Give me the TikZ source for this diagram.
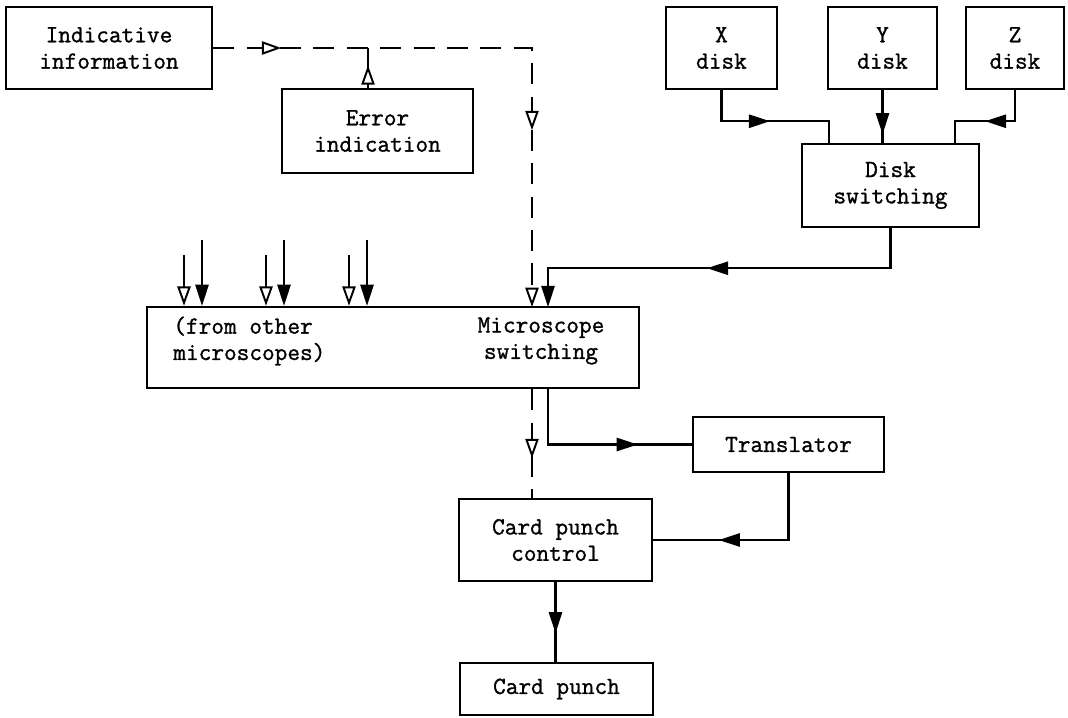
\documentclass[tikz,border=0pt]{standalone}
\usepackage{fontspec}
\newfontfamily\typefont[FakeBold=1.2]{Latin Modern Mono}
\usetikzlibrary{arrows.meta,decorations.markings}

\tikzset{
	blk/.style={draw,line width=1.4pt,align=center,inner sep=0pt,font=\typefont\fontsize{14}{15}\selectfont},
	lbl/.style={align=left,inner sep=0pt,font=\typefont\fontsize{14}{15}\selectfont},
	wire/.style={line width=1.3pt},
	dashwire/.style={wire,dash pattern=on 12pt off 7pt},
	tipfill/.style={postaction={decorate,decoration={markings,mark=at position #1 with {\arrow{Triangle[length=12pt,width=7.5pt]}}}}},
	tipopen/.style={postaction={decorate,decoration={markings,mark=at position #1 with {\arrow{Triangle[fill=white,line width=1.1pt,length=11pt,width=7.5pt]}}}}},
	endfill/.style={-{Triangle[length=12pt,width=7.5pt]}},
	endopen/.style={-{Triangle[fill=white,line width=1.1pt,length=11pt,width=7.5pt]}}
}

\begin{document}
\begin{tikzpicture}
	\useasboundingbox (0,0) rectangle (21.36,-14.34);
	
	\node[blk,minimum width=4.12cm,minimum height=1.64cm] (ind) at (2.18,-0.96) {Indicative\\information};
	\node[blk,minimum width=3.82cm,minimum height=1.68cm] (err) at (7.55,-2.62) {Error\\indication};
	\node[blk,minimum width=2.22cm,minimum height=1.64cm] (xdisk) at (14.43,-0.96) {X\\disk};
	\node[blk,minimum width=2.18cm,minimum height=1.64cm] (ydisk) at (17.65,-0.96) {Y\\disk};
	\node[blk,minimum width=1.96cm,minimum height=1.64cm] (zdisk) at (20.30,-0.96) {Z\\disk};
	\node[blk,minimum width=3.54cm,minimum height=1.66cm] (dsw) at (17.81,-3.71) {Disk\\switching};
	\node[blk,minimum width=9.84cm,minimum height=1.62cm] (micro) at (7.86,-6.95) {};
	\node[lbl,anchor=west] (otherlbl) at (3.46,-6.82) {(from other\\microscopes)};
	\node[lbl,align=center] (microlbl) at (10.82,-6.82) {Microscope\\switching};
	\node[blk,minimum width=3.82cm,minimum height=1.10cm] (trans) at (15.77,-8.89) {Translator};
	\node[blk,minimum width=3.86cm,minimum height=1.64cm] (cpc) at (11.11,-10.80) {Card punch\\control};
	\node[blk,minimum width=3.86cm,minimum height=1.04cm] (cp) at (11.13,-13.78) {Card punch};
	
	\coordinate (dsh) at (10.64,-6.14);
	\coordinate (sol) at (10.96,-6.14);
	\coordinate (dx) at (16.58,-2.88);
	\coordinate (dz) at (19.10,-2.88);
	
	% indicative information
	\draw[dashwire,endopen,tipopen=1.36cm,tipopen=8.02cm] (ind.east) -| (dsh);
	\draw[wire,tipopen=0.45cm] ([xshift=-0.19cm]err.north) -- ([xshift=-0.19cm]err.north |- ind.east);
	
	% disks
	\draw[wire,tipfill=1.59cm] (xdisk.south) -- ++(0,-0.62) -| (dx);
	\draw[wire,tipfill=0.88cm] (ydisk.south) -- (ydisk.south |- dsw.north);
	\draw[wire,tipfill=1.22cm] (zdisk.south) -- ++(0,-0.62) -| (dz);
	\draw[wire,endfill,tipfill=4.47cm] (dsw.south) -- ++(0,-0.8) -| (sol);
	
	\foreach \x in {3.68,5.32,6.98}{
		\draw[wire,endopen] (\x,-5.1) -- (\x,-5.1 |- micro.north);
		\draw[wire,endfill] (\x+0.36,-4.8) -- (\x+0.36,-4.8 |- micro.north);
	}
	
	% output side
	\draw[dashwire,tipopen=1.38cm] (micro.south -| dsh) -- (cpc.north -| dsh);
	\draw[wire,tipfill=2.9cm] (micro.south -| sol) |- (trans.west);
	\draw[wire,tipfill=2.73cm] (trans.south) |- (cpc.east);
	\draw[wire,tipfill=1.02cm] (cpc.south) -- (cpc.south |- cp.north);
\end{tikzpicture}
\end{document}
